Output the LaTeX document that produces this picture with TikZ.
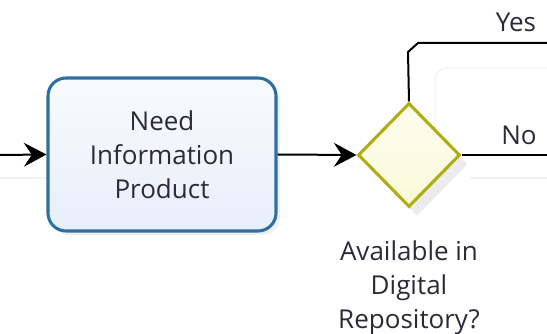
\documentclass[tikz,border=0pt]{standalone}
\usepackage{fontspec}
\setmainfont{Open Sans}
\usetikzlibrary{positioning, arrows.meta, shapes.geometric, shadows}
\definecolor{taskline}{HTML}{2C6FA0}
\definecolor{taskfill}{HTML}{E8EFFA}
\definecolor{gateline}{HTML}{B0AC12}
\definecolor{gatefill}{HTML}{FAFAD8}
\definecolor{labeltext}{HTML}{2E2838}
\tikzset{
  task/.style={draw=taskline, line width=2.3pt, rectangle, rounded corners=13.5pt,
    top color=white!70!taskfill, bottom color=taskfill, minimum width=171pt, minimum height=114.75pt,
    align=center, font=\fontsize{19.5}{25.5}\selectfont, text=labeltext,
    drop shadow={opacity=0.12, shadow xshift=3pt, shadow yshift=-3pt}},
  gate/.style={draw=gateline, line width=2.3pt, diamond, inner sep=0pt,
    top color=white!60!gatefill, bottom color=gatefill, minimum width=76.5pt, minimum height=78pt,
    drop shadow={opacity=0.15, shadow xshift=6pt, shadow yshift=-7pt}},
  lbl/.style={align=center, font=\fontsize{19.5}{25.5}\selectfont, text=labeltext, inner sep=0pt},
  flow/.style={line width=1.5pt, black},
  arr/.style={flow, -{Stealth[length=17pt, width=18pt, inset=6pt]}},
  faint/.style={draw=gray!10, line width=1pt}
}

\begin{document}
\begin{tikzpicture}[x=0.75pt, y=-0.75pt]
  \useasboundingbox (0,0) rectangle (547,334);

  % faint background lanes
  \draw[faint] (0,178) -- (48,178);
  \draw[faint] (470,178) -- (547,178);
  \draw[faint, rounded corners=9pt] (435,175) -- (435,68) -- (560,68);

  \node[task] (need) at (162,154.5) {Need\\Information\\Product};
  \node[gate] (avail) at (409,155) {};
  \node[lbl, below=24pt of avail] (availtxt) {Available in\\Digital\\Repository?};

  \coordinate (start) at (0,155);
  \coordinate (yesend) at (547,43);
  \coordinate (noend) at (547,155);

  \draw[arr] (start) -- (need.west);
  \draw[arr] (need.east) -- (avail.west);
  \draw[flow] (avail.north) -- (408,52) -- (418,43) -- (yesend);
  \draw[flow] (avail.east) -- (noend);

  \node[lbl] (yes) at (516,22) {Yes};
  \node[lbl] (no) at (519,135) {No};
\end{tikzpicture}
\end{document}
